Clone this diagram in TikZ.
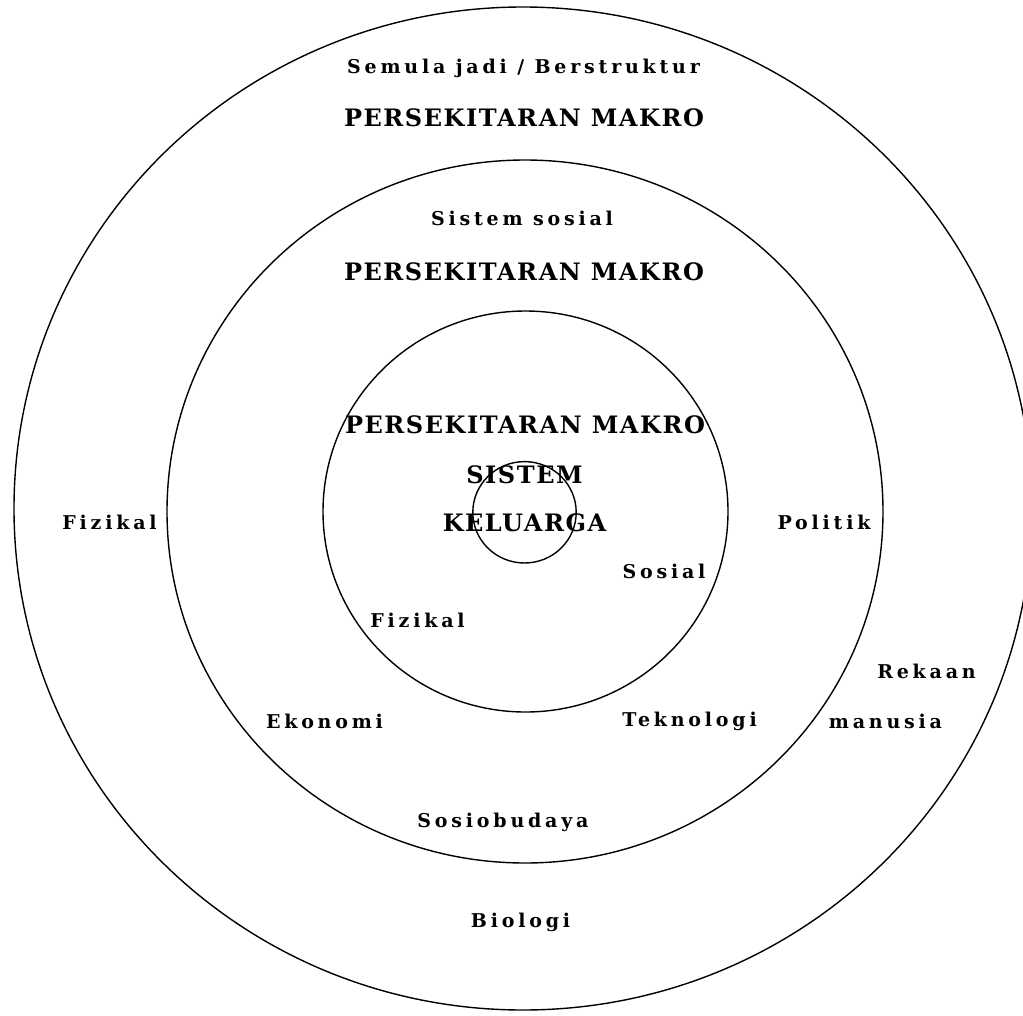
\documentclass[tikz,border=0pt]{standalone}
\usepackage{fontspec}
\newfontfamily\capf{DejaVu Serif}[LetterSpace=6.5]
\newfontfamily\lowf{DejaVu Serif}[LetterSpace=20]
\tikzset{
  ring/.style={draw=black, line width=1.4pt},
  capt/.style={font=\capf\bfseries\fontsize{24}{30}\selectfont, inner sep=0pt, text=black},
  lab/.style={font=\lowf\bfseries\fontsize{19}{22}\selectfont, inner sep=0pt, text=black}
}
\begin{document}
\begin{tikzpicture}[x=1pt,y=-1pt]
\useasboundingbox (0,0) rectangle (1023,1015);
\clip (0,0) rectangle (1023,1015);
\fill[white] (0,0) rectangle (1023,1015);
% rings
\draw[ring] (523,508.5) ellipse [x radius=509, y radius=501.5];
\draw[ring] (525,511.5) ellipse [x radius=358, y radius=351.5];
\draw[ring] (525.5,511.5) ellipse [x radius=202.5, y radius=200.5];
\draw[ring] (524.5,512.3) ellipse [x radius=51.7, y radius=50.7];
% texts
\node[lab]  (semula)   at (523.5,68)  {Semula jadi / Berstruktur};
\node[capt] (pmouter)  at (524,118)   {PERSEKITARAN MAKRO};
\node[lab]  (sissos)   at (522,218)   {Sistem sosial};
\node[capt] (pmmid)    at (524,272)   {PERSEKITARAN MAKRO};
\node[capt] (pminner)  at (525,425)   {PERSEKITARAN MAKRO};
\node[capt] (sistem)   at (524.5,475) {SISTEM};
\node[capt] (keluarga) at (524.5,523) {KELUARGA};
\node[lab]  (sosial)   at (664,571)   {Sosial};
\node[lab]  (fizin)    at (417.5,620) {Fizikal};
\node[lab]  (fizout)   at (109.5,522) {Fizikal};
\node[lab]  (politik)  at (824,522)   {Politik};
\node[lab]  (rekaan)   at (926.5,671) {Rekaan};
\node[lab]  (manusia)  at (885.5,721) {manusia};
\node[lab]  (ekonomi)  at (324.5,721) {Ekonomi};
\node[lab]  (teknologi) at (689.5,721) {Teknologi};
\node[lab]  (sosio)    at (503,822)   {Sosiobudaya};
\node[lab]  (biologi)  at (520.5,922) {Biologi};
\end{tikzpicture}
\end{document}
